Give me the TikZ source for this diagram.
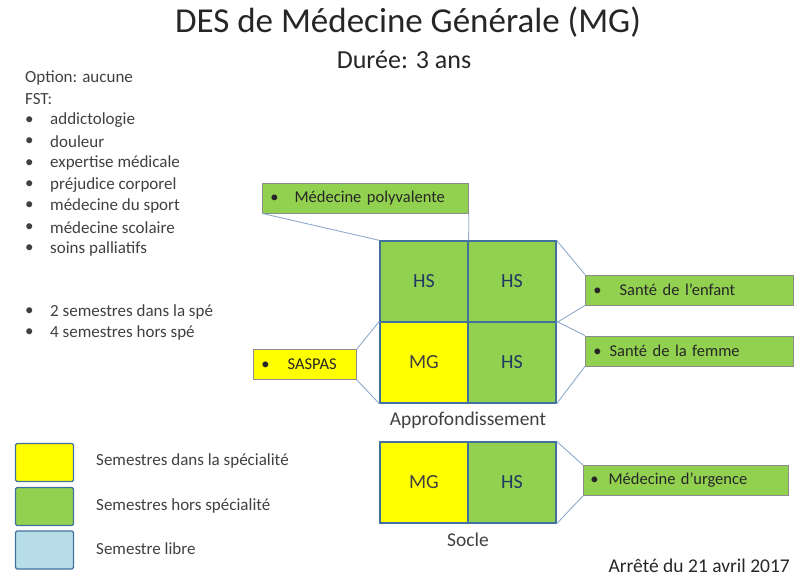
\documentclass[tikz,border=0pt]{standalone}
\usepackage{fontspec}
\setmainfont{Carlito}
\usetikzlibrary{positioning}

\definecolor{hsgreen}{HTML}{92D050}
\definecolor{mgyellow}{HTML}{FFFF00}
\definecolor{librebleu}{HTML}{B7DEE8}
\definecolor{cellblue}{HTML}{41719C}
\definecolor{linkblue}{HTML}{8EA9C9}
\definecolor{boxgray}{HTML}{8C8C8C}
\definecolor{textgray}{HTML}{404040}
\definecolor{hstext}{HTML}{1F3864}

\begin{document}
\begin{tikzpicture}[x=1pt, y=-1pt,
  every node/.style={font=\fontsize{17}{20}\selectfont, text=textgray},
  cell/.style={draw=cellblue, line width=1.3pt, minimum width=88pt, minimum height=81pt,
               inner sep=0pt, font=\fontsize{20}{24}\selectfont},
  hs/.style={cell, fill=hsgreen, text=hstext},
  mg/.style={cell, fill=mgyellow, text=textgray},
  callout/.style={draw=boxgray, line width=0.8pt, minimum height=30pt, anchor=west,
                  inner sep=0pt, align=left, text=black!85, font=\fontsize{16.5}{20}\selectfont},
  legbox/.style={draw=cellblue, line width=1.3pt, rounded corners=1.5pt,
                 minimum width=58pt, minimum height=38pt},
  link/.style={draw=linkblue, line width=0.9pt},
  listitem/.style={anchor=west, inner sep=0pt}]
\useasboundingbox (0,0) rectangle (797,580);

% titre
\node (title) at (408,22) [font=\fontsize{35}{40}\selectfont, text=black!85] {DES de Médecine Générale (MG)};
\node (duree) at (404,60) [font=\fontsize{26}{30}\selectfont, text=black!85] {Durée: 3 ans};

% options et FST
\node (option) at (25,78) [listitem] {Option: aucune};
\node (fst) at (25,99) [listitem] {FST:};
\foreach \item [count=\i] in {addictologie, douleur, expertise médicale, préjudice corporel,
                               médecine du sport, médecine scolaire, soins palliatifs} {
  \node (fstb\i) at (25,{99+21.4*\i}) [listitem] {\textbullet};
  \node (fst\i) at (50,{99+21.4*\i}) [listitem] {\item};
}
\node (semb1) at (25,312) [listitem] {\textbullet};
\node (sem1) at (50,312) [listitem] {2 semestres dans la spé};
\node (semb2) at (25,333) [listitem] {\textbullet};
\node (sem2) at (50,333) [listitem] {4 semestres hors spé};

% approfondissement
\node (hs1) at (424,281.5) [hs] {HS};
\node (hs2) at (512,281.5) [hs] {HS};
\node (mg1) at (424,362.5) [mg] {MG};
\node (hs3) at (512,362.5) [hs] {HS};
\node (approf) at (468,420) [font=\fontsize{19.5}{23}\selectfont] {Approfondissement};

% socle
\node (mg2) at (424,482.5) [mg] {MG};
\node (hs4) at (512,482.5) [hs] {HS};
\node (socle) at (468,540) [font=\fontsize{19.5}{23}\selectfont] {Socle};

% stages
\node (poly) at (262,198) [callout, fill=hsgreen, text width=206pt]
  {\hspace*{8pt}\textbullet\hspace{16pt}Médecine polyvalente};
\node (saspas) at (253,364.5) [callout, fill=mgyellow, text width=103pt]
  {\hspace*{8pt}\textbullet\hspace{18pt}SASPAS};
\node (enfant) at (585,290) [callout, fill=hsgreen, text width=208pt]
  {\hspace*{8pt}\textbullet\hspace{18pt}Santé de l’enfant};
\node (femme) at (585,351) [callout, fill=hsgreen, text width=208pt]
  {\hspace*{8pt}\textbullet\hspace{8pt}Santé de la femme};
\node (urgence) at (583,480.5) [callout, fill=hsgreen, text width=205pt]
  {\hspace*{7pt}\textbullet\hspace{10pt}Médecine d’urgence};

\draw [link] (poly.south west) -- (hs1.north west);
\draw [link] (poly.south east) -- (hs1.north east);
\draw [link] (saspas.north east) -- (mg1.north west);
\draw [link] (saspas.south east) -- (mg1.south west);
\draw [link] (hs2.north east) -- (enfant.north west);
\draw [link] (hs2.south east) -- (enfant.south west);
\draw [link] (hs3.north east) -- (femme.north west);
\draw [link] (hs3.south east) -- (femme.south west);
\draw [link] (hs4.north east) -- (urgence.north west);
\draw [link] (hs4.south east) -- (urgence.south west);

% legende
\node (legmg) at (44.5,462.5) [legbox, fill=mgyellow] {};
\node (leghs) at (44.5,506.5) [legbox, fill=hsgreen] {};
\node (leglib) at (44.5,550) [legbox, fill=librebleu] {};
\node (legmgt) at (96,461) [listitem] {Semestres dans la spécialité};
\node (leghst) at (96,506) [listitem] {Semestres hors spécialité};
\node (leglibt) at (96,549) [listitem] {Semestre libre};

\node (arrete) at (790,566) [anchor=east, inner sep=0pt, font=\fontsize{19.5}{23}\selectfont, text=black!85]
  {Arrêté du 21 avril 2017};
\end{tikzpicture}
\end{document}
